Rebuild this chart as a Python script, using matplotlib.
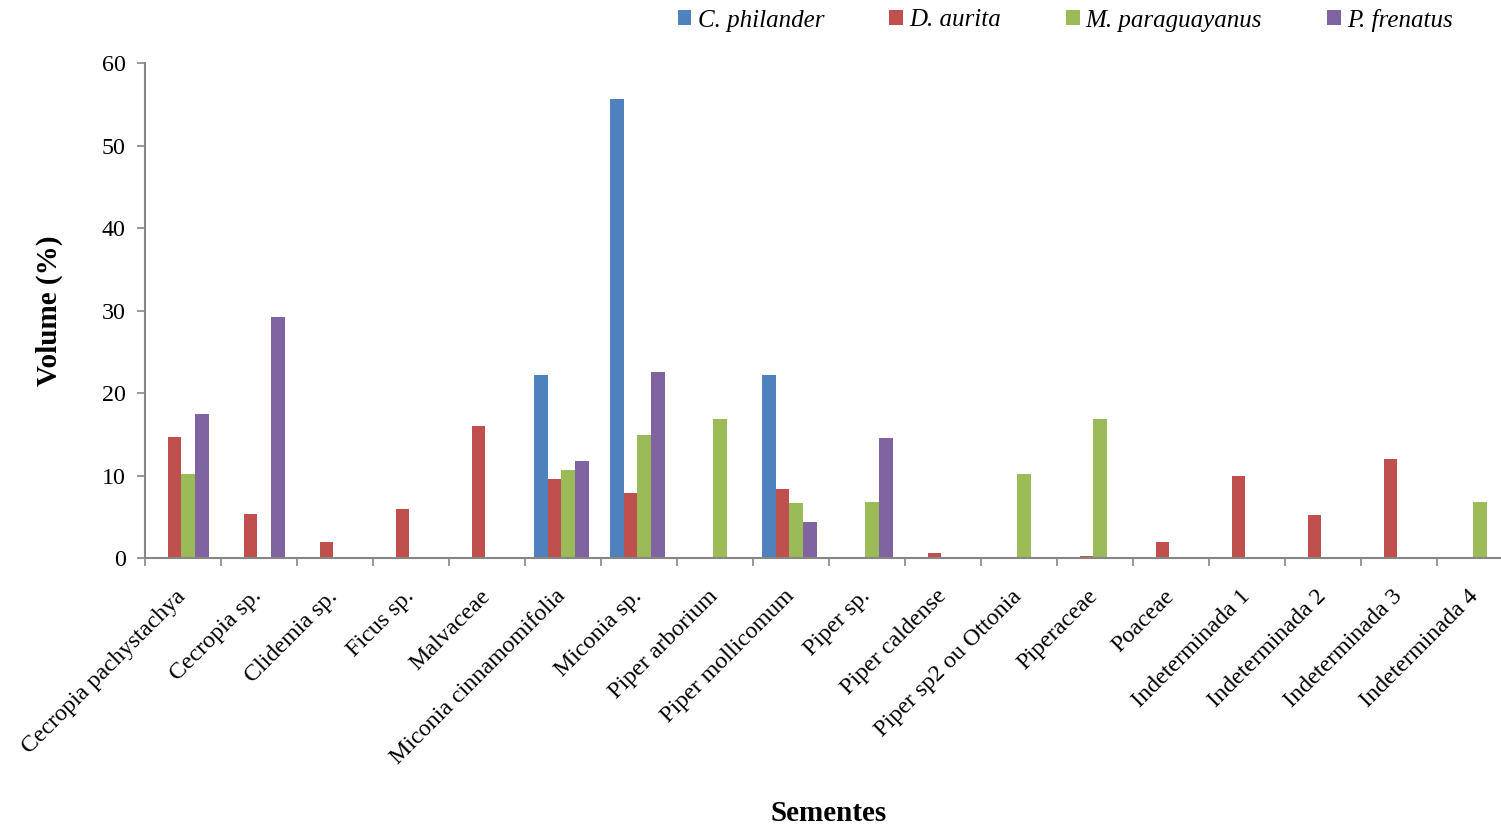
import numpy as np
import matplotlib
matplotlib.use("Agg")
import matplotlib.pyplot as plt

plt.rcParams['font.family'] = ['Liberation Serif', 'DejaVu Serif']

sementes = ['Cecropia pachystachya', 'Cecropia sp.', 'Clidemia sp.', 'Ficus sp.',
            'Malvaceae', 'Miconia cinnamomifolia', 'Miconia sp.', 'Piper arborium',
            'Piper mollicomum', 'Piper sp.', 'Piper caldense', 'Piper sp2 ou Ottonia',
            'Piperaceae', 'Poaceae', 'Indeterminada 1', 'Indeterminada 2',
            'Indeterminada 3', 'Indeterminada 4']

c_philander = [0, 0, 0, 0, 0, 22.2, 55.6, 0, 22.2, 0, 0, 0, 0, 0, 0, 0, 0, 0]
d_aurita = [14.7, 5.3, 2.0, 6.0, 16.0, 9.6, 7.9, 0, 8.4, 0, 0.6, 0, 0.3, 2.0, 10.0, 5.2, 12.0, 0]
m_paraguayanus = [10.2, 0, 0, 0, 0, 10.7, 14.9, 16.9, 6.7, 6.8, 0, 10.2, 16.8, 0, 0, 0, 0, 6.8]
p_frenatus = [17.5, 29.2, 0, 0, 0, 11.7, 22.5, 0, 4.4, 14.6, 0, 0, 0, 0, 0, 0, 0, 0]

series = [('C. philander', c_philander, '#4F81BD'),
          ('D. aurita', d_aurita, '#C0504D'),
          ('M. paraguayanus', m_paraguayanus, '#9BBB59'),
          ('P. frenatus', p_frenatus, '#8064A2')]

fig = plt.figure(figsize=(15.01, 8.30), dpi=100)
ax = fig.add_axes([145 / 1501, 1 - 558 / 830, 1368 / 1501, 495 / 830])

x = np.arange(len(sementes))
w = 0.18
for i, (name, vals, col) in enumerate(series):
    ax.bar(x + (i - 1.5) * w - 0.02, vals, width=w, color=col, label=name, linewidth=0)

ax.set_xlim(-0.5, len(sementes) - 0.5)
ax.set_ylim(0, 60)
ax.set_yticks(range(0, 61, 10))

# category boundaries get the tick marks, the names hang just left of each centre
ax.set_xticks(np.arange(len(sementes) + 1) - 0.5)
ax.set_xticklabels([])
ax.set_xticks(x - 0.1, minor=True)
ax.set_xticklabels(sementes, minor=True, rotation=45, ha='right', va='top',
                   rotation_mode='anchor', fontsize=17.3)
ax.tick_params(axis='x', which='minor', length=0, pad=20)
ax.tick_params(axis='x', which='major', length=6, color='#868686', width=1.2)
ax.tick_params(axis='y', length=6, color='#868686', width=1.2, labelsize=17.3, pad=8)

for s in ['top', 'right']:
    ax.spines[s].set_visible(False)
for s in ['left', 'bottom']:
    ax.spines[s].set_color('#868686')
    ax.spines[s].set_linewidth(1.5)

ax.set_ylabel('Volume (%)', fontsize=21, fontweight='bold', labelpad=28)
fig.text(829 / 1501, 1 - 813 / 830, 'Sementes', fontsize=21, fontweight='bold',
         ha='center', va='center')

fig.legend(loc='center right', bbox_to_anchor=(1453 / 1501, 1 - 20 / 830), ncol=4,
           frameon=False, prop={'style': 'italic', 'size': 18},
           handlelength=0.55, handleheight=0.55, handletextpad=0.25,
           columnspacing=2.6, borderaxespad=0, borderpad=0)

fig.savefig('out.png', dpi=100)
